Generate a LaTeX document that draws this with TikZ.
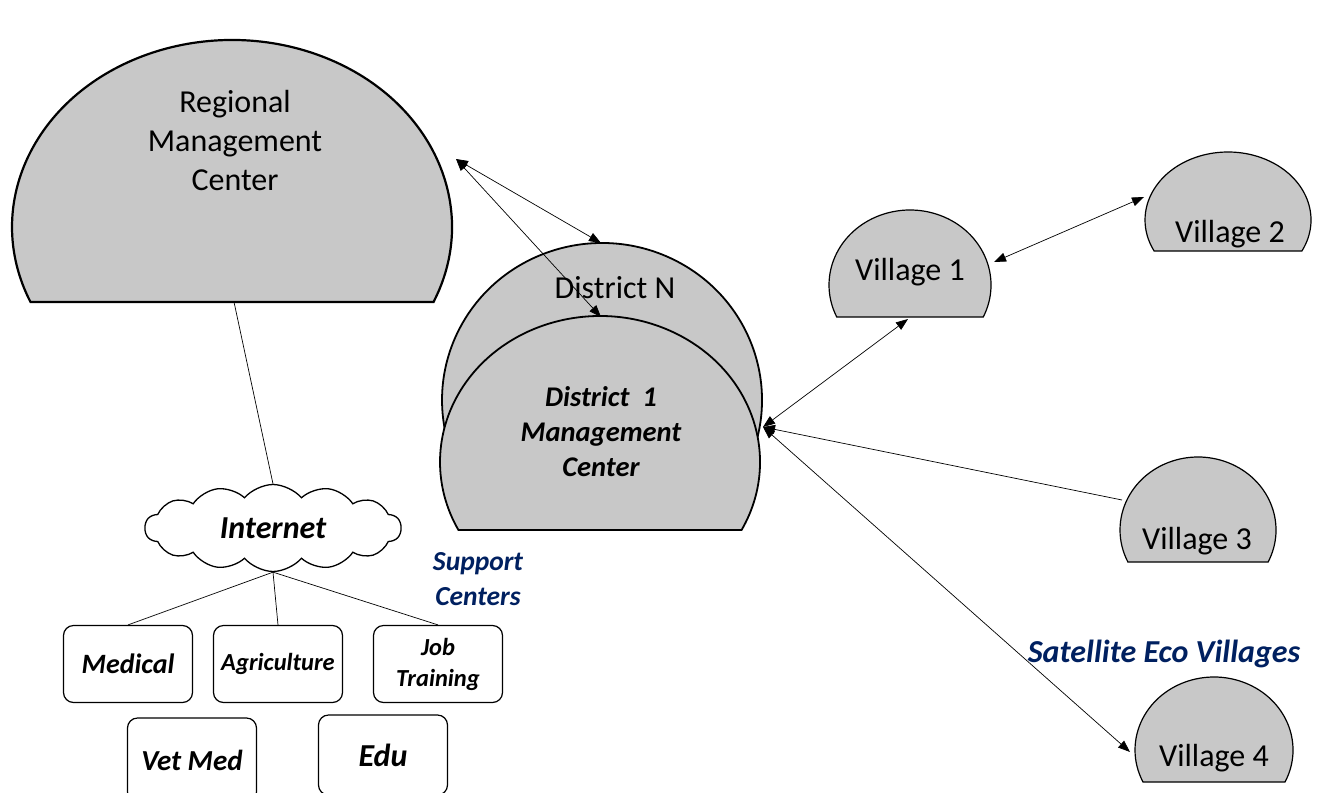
\documentclass[tikz,border=0pt]{standalone}
\usepackage{fontspec}
\setmainfont{Carlito}
\usetikzlibrary{arrows.meta,shapes.symbols}

\definecolor{cinza}{RGB}{200,200,200}
\definecolor{azulescuro}{RGB}{0,32,96}

% cupula: [opcoes]{centro x}{centro y}{raio x}{raio y}{base abaixo do centro}
\newcommand{\cupula}[6][]{%
  \draw[cupula,#1] (#2,#3) ++({-asin(#6/#5)}:#4pt and #5pt)
    arc[start angle={-asin(#6/#5)}, end angle={180+asin(#6/#5)}, x radius=#4pt, y radius=#5pt] -- cycle;}

\begin{document}
\begin{tikzpicture}[x=1pt, y=1pt,
    cupula/.style={draw, fill=cinza, line width=1.2pt},
    rotulo/.style={font=\fontsize{32}{39}\selectfont, align=center},
    caixa/.style={draw, rounded corners=10pt, line width=1.2pt, minimum width=129pt, align=center, inner sep=2pt},
    enfase/.style 2 args={font=\bfseries\itshape\fontsize{#1}{#2}\selectfont},
    legenda/.style 2 args={text=azulescuro, align=center, font=\bfseries\itshape\fontsize{#1}{#2}\selectfont},
    seta/.style={{Triangle[length=12pt,width=9pt]}-{Triangle[length=12pt,width=9pt]}, line width=0.7pt},
    linha/.style={line width=0.7pt}]

    % Area da figura
    \useasboundingbox (0,0) rectangle (1321,-792);
    \clip (0,0) rectangle (1321,-792);

    % Cupulas
    \cupula[line width=2.2pt]{232}{-227}{220}{187}{75}
    \cupula[line width=1.8pt]{602}{-400}{160}{157}{70}
    \cupula[line width=1.8pt]{600}{-462}{160}{146}{68}
    \cupula{910}{-285}{81}{75}{32}
    \cupula{1228}{-220}{83}{68}{31}
    \cupula{1198}{-530}{78}{73}{32}
    \cupula{1214}{-750}{79}{73}{32}

    % Textos das cupulas
    \node[rotulo] (rmc) at (235,-141) {Regional\\Management\\Center};
    \node[rotulo] (dn) at (615,-288) {District N};
    \node[enfase={28.5}{35}, align=center] (d1) at (601,-432) {District\ \ 1\\Management\\Center};
    \node[rotulo] (v1) at (910,-272) {Village 1};
    \node[rotulo] (v2) at (1230,-234) {Village 2};
    \node[rotulo] (v3) at (1197,-541) {Village 3};
    \node[rotulo] (v4) at (1214,-758) {Village 4};

    % Pontos de ligacao
    \coordinate (rmc-e) at (456,-159);
    \coordinate (rmc-s) at (234,-302);
    \coordinate (dn-n) at (601,-243);
    \coordinate (d1-n) at (601,-317);
    \coordinate (d1-e) at (763,-427);
    \coordinate (v1-s) at (908,-319);
    \coordinate (v1-e) at (994,-262);
    \coordinate (v2-w) at (1144,-197);
    \coordinate (v3-w) at (1122,-500);
    \coordinate (v4-w) at (1130,-752);

    % Internet e centros de apoio
    \node[cloud, draw, cloud puffs=14, cloud puff arc=100, aspect=3.1, minimum width=256pt, minimum height=87pt,
          inner sep=0pt, line width=1.3pt, enfase={32}{38}] (net) at (273,-528) {Internet};
    \node[caixa, minimum height=77pt, enfase={28}{34}] (med) at (128,-664) {Medical};
    \node[caixa, minimum height=77pt, enfase={24.5}{31}] (agr) at (278,-664) {Agriculture};
    \node[caixa, minimum height=77pt, enfase={24.5}{31}] (job) at (438,-664) {Job\\Training};
    \node[caixa, minimum height=84pt, enfase={29}{35}] (vet) at (192,-760) {Vet Med};
    \node[caixa, minimum height=80pt, enfase={32}{38}] (edu) at (383,-755) {Edu};

    % Legendas
    \node[legenda={27.5}{35}] (sup) at (478,-579) {Support\\Centers};
    \node[legenda={32}{38}] (sat) at (1164,-654) {Satellite Eco Villages};

    % Ligacoes
    \draw[linha] (rmc-s) -- (net.north);
    \draw[linha] (net.south) -- (med.north);
    \draw[linha] (net.south) -- (agr.north);
    \draw[linha] (net.south) -- (job.north);

    \draw[seta] (rmc-e) -- (dn-n);
    \draw[seta] (rmc-e) -- (d1-n);
    \draw[seta] (d1-e) -- (v1-s);
    \draw[seta] (v1-e) -- (v2-w);
    \draw[seta, {Triangle[length=12pt,width=9pt]}-] (d1-e) -- (v3-w);
    \draw[seta] (d1-e) -- (v4-w);

\end{tikzpicture}
\end{document}
